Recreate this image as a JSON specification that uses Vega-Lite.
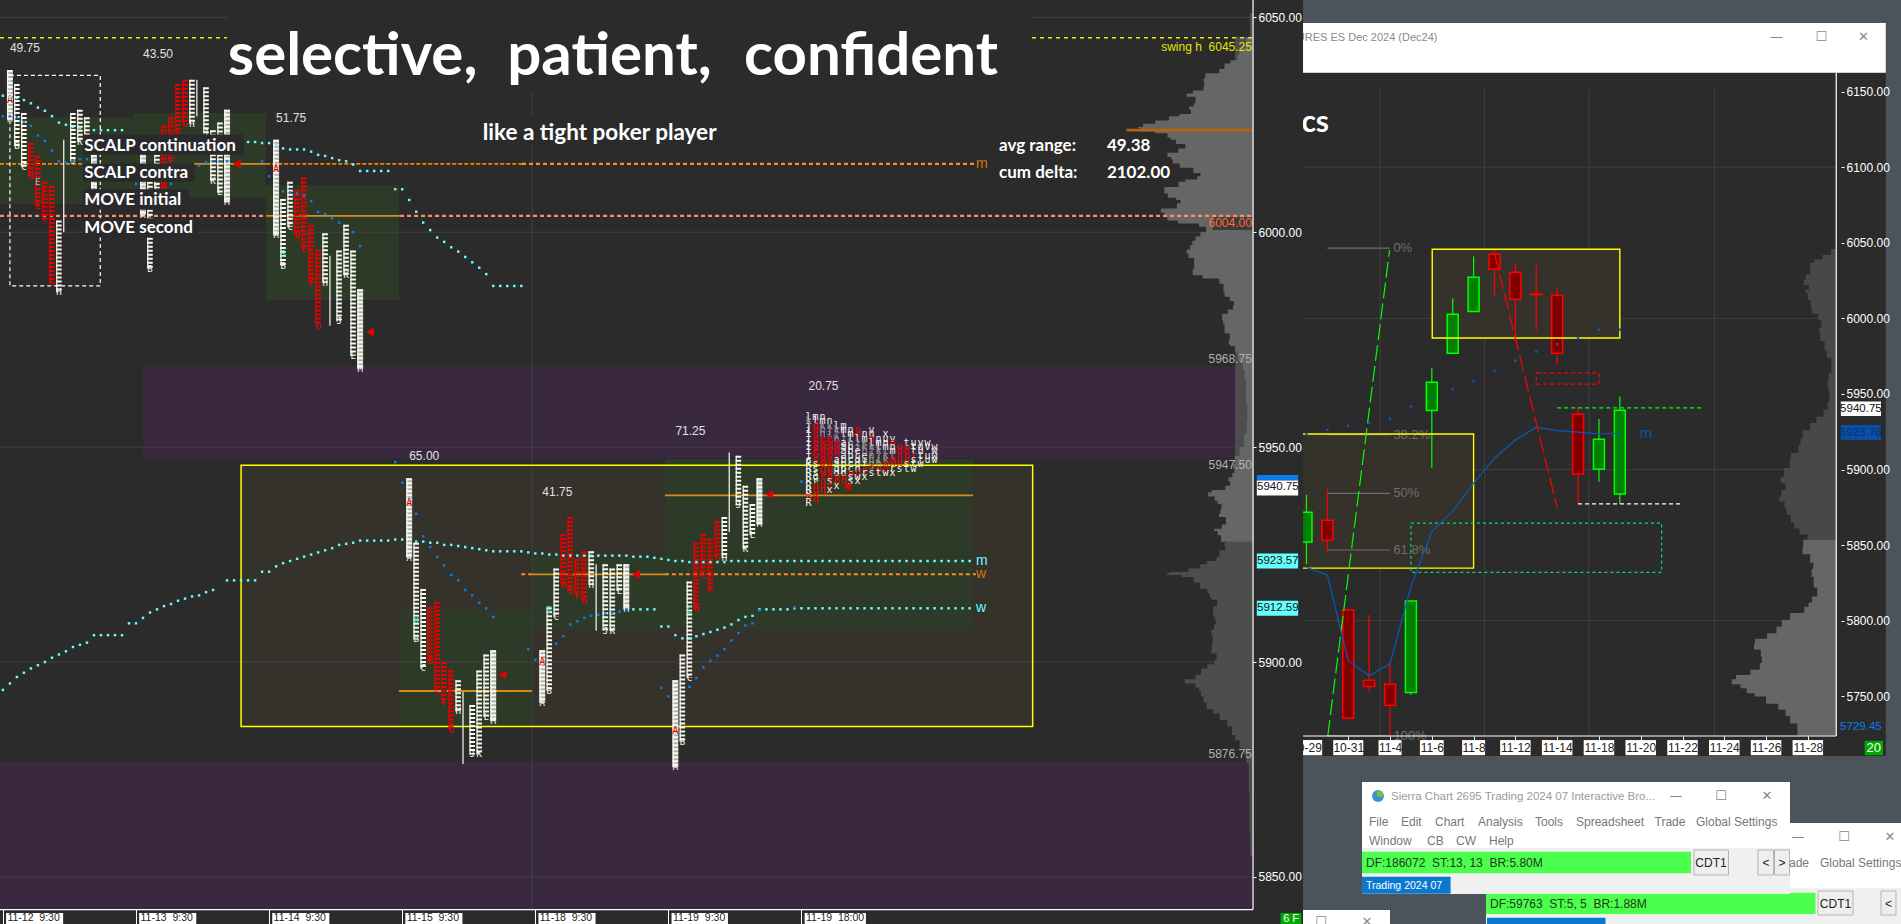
{
"$schema":"https://vega.github.io/schema/vega-lite/v6.json",
"width":1901,"height":924,"padding":0,"autosize":{"type":"none"},"background":"#4b535b",
"config":{"view":{"stroke":null},"text":{"font":"Liberation Sans"},"axis":{"labelFont":"Liberation Sans"}},
"datasets":{
"tpo":[
{"b":1,"p":6037.75,"p2":6026.25,"t":"A","c":"w"},{"b":2,"p":6034.5,"p2":6020,"t":"B","c":"w"},{"b":3,"p":6027.75,"p2":6015.25,"t":"C","c":"w"},{"b":4,"p":6020.75,"p2":6013,"t":"D","c":"r"},{"b":5,"p":6017.75,"p2":6006,"t":"E","c":"r"},{"b":6,"p":6011.75,"p2":6003,"t":"F","c":"r"},{"b":7,"p":6010.75,"p2":5988.25,"t":"G","c":"r"},{"b":8,"p":6002.75,"p2":5986,"t":"H","c":"w"},{"b":9,"p":6021.5,"p2":6000,"t":"I","c":"w"},{"b":10,"p":6027.75,"p2":6016.5,"t":"J","c":"w"},{"b":11,"p":6028.5,"p2":6021,"t":"K","c":"w"},{"b":12,"p":6026.75,"p2":6020,"t":"L","c":"w"},{"b":13,"p":6018,"p2":6010.25,"t":"M","c":"w"},
{"b":20,"p":6022.5,"p2":6004,"t":"A","c":"w"},{"b":21,"p":6011.75,"p2":5991.5,"t":"B","c":"w"},{"b":22,"p":6018,"p2":6010.25,"t":"C","c":"w"},{"b":23,"p":6024.75,"p2":6010.25,"t":"D","c":"r"},{"b":24,"p":6026.75,"p2":6016.5,"t":"E","c":"r"},{"b":25,"p":6034.5,"p2":6023,"t":"F","c":"r"},{"b":26,"p":6035.5,"p2":6025.25,"t":"G","c":"r"},{"b":27,"p":6035.5,"p2":6025.25,"t":"H","c":"w"},{"b":28,"p":6035.5,"p2":6027,"t":"I","c":"w"},{"b":29,"p":6033.75,"p2":6023,"t":"J","c":"w"},{"b":30,"p":6023.75,"p2":6012,"t":"K","c":"w"},{"b":31,"p":6025.5,"p2":6009.25,"t":"L","c":"w"},{"b":32,"p":6028.5,"p2":6007,"t":"M","c":"w"},
{"b":39,"p":6021.5,"p2":5999.25,"t":"A","c":"w"},{"b":40,"p":6007.75,"p2":5992.25,"t":"B","c":"w"},{"b":41,"p":6011.75,"p2":6001.25,"t":"C","c":"w"},{"b":42,"p":6009.75,"p2":5999.25,"t":"D","c":"r"},{"b":43,"p":6012.75,"p2":5996,"t":"E","c":"r"},{"b":44,"p":6001.75,"p2":5988.25,"t":"F","c":"r"},{"b":45,"p":5996,"p2":5978.25,"t":"G","c":"r"},{"b":46,"p":5999.75,"p2":5988.25,"t":"H","c":"w"},{"b":47,"p":5994.5,"p2":5978.25,"t":"I","c":"w"},{"b":48,"p":5995.75,"p2":5979.25,"t":"J","c":"w"},{"b":49,"p":6001.75,"p2":5990,"t":"K","c":"w"},{"b":50,"p":5995.75,"p2":5971.25,"t":"L","c":"w"},{"b":51,"p":5986.75,"p2":5968.25,"t":"M","c":"w"},
{"b":58,"p":5942.75,"p2":5924.25,"t":"A","c":"w"},{"b":59,"p":5927.75,"p2":5905.25,"t":"B","c":"w"},{"b":60,"p":5917,"p2":5898.5,"t":"C","c":"w"},{"b":61,"p":5912.75,"p2":5900.25,"t":"D","c":"r"},{"b":62,"p":5914,"p2":5893.5,"t":"E","c":"r"},{"b":63,"p":5900,"p2":5890.5,"t":"F","c":"r"},{"b":64,"p":5898,"p2":5884.25,"t":"G","c":"r"},{"b":65,"p":5895.75,"p2":5888.5,"t":"H","c":"w"},{"b":66,"p":5893,"p2":5876.25,"t":"I","c":"w"},{"b":67,"p":5890,"p2":5878.5,"t":"J","c":"w"},{"b":68,"p":5898,"p2":5878.5,"t":"K","c":"w"},{"b":69,"p":5901.75,"p2":5887.25,"t":"L","c":"w"},{"b":70,"p":5902.75,"p2":5886.25,"t":"M","c":"w"},
{"b":77,"p":5902.75,"p2":5890.5,"t":"A","c":"w"},{"b":78,"p":5912.75,"p2":5893.25,"t":"B","c":"w"},{"b":79,"p":5921.75,"p2":5910.5,"t":"C","c":"w"},{"b":80,"p":5929.75,"p2":5918,"t":"D","c":"r"},{"b":81,"p":5933.75,"p2":5916.5,"t":"E","c":"r"},{"b":82,"p":5924,"p2":5915.5,"t":"F","c":"r"},{"b":83,"p":5925.75,"p2":5914.25,"t":"G","c":"r"},{"b":84,"p":5925.75,"p2":5918,"t":"H","c":"w"},{"b":85,"p":5922.75,"p2":5907.25,"t":"I","c":"w"},{"b":86,"p":5922.75,"p2":5907.25,"t":"J","c":"w"},{"b":87,"p":5921.75,"p2":5907.25,"t":"K","c":"w"},{"b":88,"p":5922.75,"p2":5916.5,"t":"L","c":"w"},{"b":89,"p":5922.75,"p2":5912.25,"t":"M","c":"w"},
{"b":96,"p":5895.75,"p2":5875.5,"t":"A","c":"w"},{"b":97,"p":5901.75,"p2":5881.5,"t":"B","c":"w"},{"b":98,"p":5918.75,"p2":5896.25,"t":"C","c":"w"},{"b":99,"p":5927.75,"p2":5912.25,"t":"D","c":"r"},{"b":100,"p":5929.75,"p2":5920.25,"t":"E","c":"r"},{"b":101,"p":5928.75,"p2":5916.5,"t":"F","c":"r"},{"b":102,"p":5932.75,"p2":5924.25,"t":"G","c":"r"},{"b":103,"p":5933.75,"p2":5924.25,"t":"H","c":"w"},{"b":104,"p":5948.75,"p2":5930.25,"t":"I","c":"w"},{"b":105,"p":5948,"p2":5936.5,"t":"J","c":"w"},{"b":106,"p":5941,"p2":5926.25,"t":"K","c":"w"},{"b":107,"p":5936.75,"p2":5929.5,"t":"L","c":"w"},{"b":108,"p":5942.75,"p2":5932,"t":"M","c":"w"}
],
"cloud":[
{"b":115,"p":5957,"t":"l","c":"w"},{"b":116,"p":5957,"t":"m","c":"w"},{"b":117,"p":5957,"t":"n","c":"w"},
{"b":115,"p":5956,"t":"k","c":"g"},{"b":116,"p":5956,"t":"l","c":"w"},{"b":117,"p":5956,"t":"m","c":"w"},{"b":118,"p":5956,"t":"n","c":"w"},
{"b":115,"p":5955,"t":"j","c":"w"},{"b":116,"p":5955,"t":"d","c":"r"},{"b":117,"p":5955,"t":"k","c":"g"},{"b":118,"p":5955,"t":"k","c":"g"},{"b":119,"p":5955,"t":"l","c":"w"},{"b":120,"p":5955,"t":"m","c":"w"},
{"b":115,"p":5954,"t":"i","c":"w"},{"b":116,"p":5954,"t":"d","c":"r"},{"b":117,"p":5954,"t":"h","c":"g"},{"b":118,"p":5954,"t":"j","c":"g"},{"b":119,"p":5954,"t":"k","c":"g"},{"b":120,"p":5954,"t":"m","c":"w"},{"b":121,"p":5954,"t":"n","c":"w"},{"b":122,"p":5954,"t":"o","c":"r"},{"b":124,"p":5954,"t":"v","c":"w"},
{"b":115,"p":5953,"t":"i","c":"w"},{"b":116,"p":5953,"t":"d","c":"r"},{"b":117,"p":5953,"t":"h","c":"g"},{"b":118,"p":5953,"t":"i","c":"g"},{"b":119,"p":5953,"t":"j","c":"g"},{"b":120,"p":5953,"t":"l","c":"w"},{"b":121,"p":5953,"t":"m","c":"w"},{"b":122,"p":5953,"t":"o","c":"r"},{"b":123,"p":5953,"t":"n","c":"w"},{"b":124,"p":5953,"t":"u","c":"w"},{"b":126,"p":5953,"t":"x","c":"w"},
{"b":115,"p":5952,"t":"i","c":"w"},{"b":116,"p":5952,"t":"e","c":"r"},{"b":117,"p":5952,"t":"e","c":"r"},{"b":118,"p":5952,"t":"e","c":"r"},{"b":119,"p":5952,"t":"h","c":"g"},{"b":120,"p":5952,"t":"j","c":"g"},{"b":121,"p":5952,"t":"l","c":"w"},{"b":122,"p":5952,"t":"l","c":"w"},{"b":123,"p":5952,"t":"m","c":"w"},{"b":124,"p":5952,"t":"o","c":"r"},{"b":125,"p":5952,"t":"n","c":"w"},{"b":126,"p":5952,"t":"u","c":"w"},{"b":127,"p":5952,"t":"v","c":"w"},
{"b":115,"p":5951,"t":"i","c":"w"},{"b":116,"p":5951,"t":"e","c":"r"},{"b":117,"p":5951,"t":"w","c":"r"},{"b":118,"p":5951,"t":"w","c":"r"},{"b":119,"p":5951,"t":"w","c":"r"},{"b":120,"p":5951,"t":"a","c":"w"},{"b":121,"p":5951,"t":"h","c":"g"},{"b":122,"p":5951,"t":"i","c":"g"},{"b":123,"p":5951,"t":"k","c":"g"},{"b":124,"p":5951,"t":"l","c":"w"},{"b":125,"p":5951,"t":"m","c":"w"},{"b":126,"p":5951,"t":"n","c":"w"},{"b":127,"p":5951,"t":"o","c":"r"},{"b":129,"p":5951,"t":"t","c":"w"},{"b":130,"p":5951,"t":"u","c":"w"},{"b":131,"p":5951,"t":"y","c":"w"},{"b":132,"p":5951,"t":"w","c":"w"},
{"b":115,"p":5950,"t":"i","c":"w"},{"b":116,"p":5950,"t":"e","c":"r"},{"b":117,"p":5950,"t":"w","c":"r"},{"b":118,"p":5950,"t":"w","c":"r"},{"b":119,"p":5950,"t":"w","c":"r"},{"b":120,"p":5950,"t":"a","c":"w"},{"b":121,"p":5950,"t":"b","c":"w"},{"b":122,"p":5950,"t":"j","c":"g"},{"b":123,"p":5950,"t":"k","c":"g"},{"b":124,"p":5950,"t":"k","c":"g"},{"b":125,"p":5950,"t":"l","c":"w"},{"b":126,"p":5950,"t":"m","c":"w"},{"b":127,"p":5950,"t":"n","c":"w"},{"b":128,"p":5950,"t":"o","c":"r"},{"b":129,"p":5950,"t":"p","c":"r"},{"b":130,"p":5950,"t":"t","c":"w"},{"b":131,"p":5950,"t":"u","c":"w"},{"b":132,"p":5950,"t":"v","c":"w"},{"b":133,"p":5950,"t":"w","c":"w"},
{"b":115,"p":5949,"t":"i","c":"w"},{"b":116,"p":5949,"t":"e","c":"r"},{"b":117,"p":5949,"t":"w","c":"r"},{"b":118,"p":5949,"t":"w","c":"r"},{"b":119,"p":5949,"t":"w","c":"r"},{"b":120,"p":5949,"t":"a","c":"w"},{"b":121,"p":5949,"t":"b","c":"w"},{"b":122,"p":5949,"t":"e","c":"w"},{"b":123,"p":5949,"t":"h","c":"g"},{"b":124,"p":5949,"t":"j","c":"g"},{"b":125,"p":5949,"t":"k","c":"g"},{"b":126,"p":5949,"t":"l","c":"g"},{"b":127,"p":5949,"t":"m","c":"w"},{"b":128,"p":5949,"t":"o","c":"r"},{"b":129,"p":5949,"t":"p","c":"r"},{"b":130,"p":5949,"t":"t","c":"w"},{"b":131,"p":5949,"t":"u","c":"w"},{"b":133,"p":5949,"t":"w","c":"w"},
{"b":115,"p":5948,"t":"i","c":"w"},{"b":116,"p":5948,"t":"w","c":"r"},{"b":117,"p":5948,"t":"w","c":"r"},{"b":118,"p":5948,"t":"w","c":"r"},{"b":119,"p":5948,"t":"v","c":"r"},{"b":120,"p":5948,"t":"a","c":"w"},{"b":121,"p":5948,"t":"b","c":"w"},{"b":122,"p":5948,"t":"c","c":"w"},{"b":123,"p":5948,"t":"e","c":"w"},{"b":124,"p":5948,"t":"h","c":"g"},{"b":125,"p":5948,"t":"j","c":"g"},{"b":126,"p":5948,"t":"k","c":"g"},{"b":127,"p":5948,"t":"l","c":"g"},{"b":128,"p":5948,"t":"n","c":"r"},{"b":129,"p":5948,"t":"p","c":"r"},{"b":130,"p":5948,"t":"r","c":"r"},{"b":131,"p":5948,"t":"t","c":"w"},{"b":132,"p":5948,"t":"u","c":"w"},{"b":133,"p":5948,"t":"w","c":"w"},
{"b":115,"p":5947,"t":"c","c":"w"},{"b":116,"p":5947,"t":"s","c":"r"},{"b":117,"p":5947,"t":"w","c":"r"},{"b":118,"p":5947,"t":"v","c":"r"},{"b":119,"p":5947,"t":"a","c":"w"},{"b":120,"p":5947,"t":"b","c":"w"},{"b":121,"p":5947,"t":"c","c":"w"},{"b":122,"p":5947,"t":"d","c":"w"},{"b":123,"p":5947,"t":"g","c":"g"},{"b":124,"p":5947,"t":"h","c":"g"},{"b":125,"p":5947,"t":"i","c":"g"},{"b":126,"p":5947,"t":"k","c":"g"},{"b":127,"p":5947,"t":"m","c":"r"},{"b":128,"p":5947,"t":"o","c":"r"},{"b":129,"p":5947,"t":"q","c":"r"},{"b":130,"p":5947,"t":"s","c":"w"},{"b":131,"p":5947,"t":"t","c":"w"},{"b":132,"p":5947,"t":"u","c":"w"},{"b":133,"p":5947,"t":"w","c":"w"},
{"b":115,"p":5946,"t":"R","c":"w"},{"b":116,"p":5946,"t":"s","c":"w"},{"b":117,"p":5946,"t":"w","c":"r"},{"b":118,"p":5946,"t":"w","c":"r"},{"b":119,"p":5946,"t":"a","c":"w"},{"b":120,"p":5946,"t":"p","c":"w"},{"b":121,"p":5946,"t":"c","c":"w"},{"b":122,"p":5946,"t":"d","c":"w"},{"b":123,"p":5946,"t":"f","c":"w"},{"b":124,"p":5946,"t":"g","c":"g"},{"b":125,"p":5946,"t":"h","c":"g"},{"b":126,"p":5946,"t":"m","c":"r"},{"b":127,"p":5946,"t":"n","c":"r"},{"b":128,"p":5946,"t":"q","c":"r"},{"b":129,"p":5946,"t":"s","c":"w"},{"b":130,"p":5946,"t":"t","c":"w"},{"b":131,"p":5946,"t":"w","c":"w"},
{"b":115,"p":5945,"t":"R","c":"w"},{"b":116,"p":5945,"t":"s","c":"w"},{"b":117,"p":5945,"t":"q","c":"r"},{"b":118,"p":5945,"t":"w","c":"r"},{"b":119,"p":5945,"t":"q","c":"w"},{"b":120,"p":5945,"t":"p","c":"w"},{"b":121,"p":5945,"t":"c","c":"w"},{"b":122,"p":5945,"t":"n","c":"w"},{"b":123,"p":5945,"t":"e","c":"r"},{"b":124,"p":5945,"t":"f","c":"r"},{"b":125,"p":5945,"t":"p","c":"r"},{"b":126,"p":5945,"t":"q","c":"r"},{"b":127,"p":5945,"t":"r","c":"w"},{"b":128,"p":5945,"t":"s","c":"w"},{"b":129,"p":5945,"t":"t","c":"w"},{"b":130,"p":5945,"t":"w","c":"w"},
{"b":115,"p":5944,"t":"R","c":"w"},{"b":116,"p":5944,"t":"s","c":"w"},{"b":117,"p":5944,"t":"w","c":"r"},{"b":118,"p":5944,"t":"w","c":"r"},{"b":119,"p":5944,"t":"d","c":"w"},{"b":120,"p":5944,"t":"d","c":"w"},{"b":121,"p":5944,"t":"p","c":"r"},{"b":122,"p":5944,"t":"q","c":"r"},{"b":123,"p":5944,"t":"r","c":"w"},{"b":124,"p":5944,"t":"s","c":"w"},{"b":125,"p":5944,"t":"t","c":"w"},{"b":126,"p":5944,"t":"w","c":"w"},{"b":127,"p":5944,"t":"x","c":"w"},
{"b":115,"p":5943,"t":"R","c":"w"},{"b":116,"p":5943,"t":"q","c":"w"},{"b":117,"p":5943,"t":"r","c":"r"},{"b":118,"p":5943,"t":"p","c":"r"},{"b":119,"p":5943,"t":"p","c":"r"},{"b":120,"p":5943,"t":"q","c":"r"},{"b":121,"p":5943,"t":"s","c":"w"},{"b":122,"p":5943,"t":"w","c":"w"},{"b":123,"p":5943,"t":"x","c":"w"},
{"b":115,"p":5942,"t":"R","c":"w"},{"b":116,"p":5942,"t":"r","c":"w"},{"b":117,"p":5942,"t":"q","c":"r"},{"b":118,"p":5942,"t":"s","c":"w"},{"b":119,"p":5942,"t":"p","c":"r"},{"b":120,"p":5942,"t":"q","c":"r"},{"b":121,"p":5942,"t":"s","c":"w"},{"b":122,"p":5942,"t":"x","c":"w"},
{"b":115,"p":5941,"t":"R","c":"w"},{"b":116,"p":5941,"t":"q","c":"r"},{"b":117,"p":5941,"t":"q","c":"r"},{"b":118,"p":5941,"t":"p","c":"r"},{"b":119,"p":5941,"t":"x","c":"w"},
{"b":115,"p":5940,"t":"R","c":"w"},{"b":116,"p":5940,"t":"q","c":"r"},{"b":117,"p":5940,"t":"q","c":"r"},{"b":118,"p":5940,"t":"x","c":"w"},
{"b":115,"p":5939,"t":"R","c":"w"},{"b":116,"p":5939,"t":"q","c":"r"},
{"b":115,"p":5938,"t":"R","c":"r"},{"b":116,"p":5938,"t":"q","c":"r"},
{"b":115,"p":5937,"t":"R","c":"w"}
],
"leftProfile":[
{"p":6051,"b":178,"k":"lo"},{"p":6045.5,"b":178,"k":"lo"},
{"p":6045.25,"b":177.9,"k":"hi"},{"p":6043,"b":177,"k":"hi"},{"p":6041.25,"b":176,"k":"hi"},{"p":6040,"b":176.5,"k":"hi"},{"p":6039.25,"b":174,"k":"hi"},{"p":6038,"b":174.8,"k":"hi"},{"p":6037,"b":172.5,"k":"hi"},{"p":6035.75,"b":170.8,"k":"hi"},{"p":6035,"b":172,"k":"hi"},{"p":6034,"b":171,"k":"hi"},{"p":6033,"b":171.8,"k":"hi"},{"p":6032.25,"b":168,"k":"hi"},{"p":6031.5,"b":170,"k":"hi"},{"p":6030,"b":170.5,"k":"hi"},{"p":6029.25,"b":169.5,"k":"hi"},{"p":6028.5,"b":169.2,"k":"hi"},{"p":6027.5,"b":170,"k":"hi"},{"p":6027,"b":165.9,"k":"hi"},{"p":6026,"b":167,"k":"hi"},{"p":6025.25,"b":162,"k":"hi"},{"p":6024.5,"b":163.5,"k":"hi"},{"p":6024.25,"b":160.6,"k":"hi"},{"p":6023.5,"b":164,"k":"hi"},{"p":6023,"b":165,"k":"hi"},{"p":6022,"b":167.5,"k":"hi"},{"p":6021.5,"b":165.9,"k":"hi"},{"p":6020.5,"b":169,"k":"hi"},{"p":6019.5,"b":168.6,"k":"hi"},{"p":6018.5,"b":167,"k":"hi"},{"p":6017.5,"b":165.5,"k":"hi"},{"p":6017,"b":168,"k":"hi"},{"p":6016,"b":166,"k":"hi"},{"p":6015,"b":170,"k":"hi"},{"p":6013.75,"b":169.9,"k":"hi"},{"p":6013,"b":172,"k":"hi"},{"p":6012.25,"b":169,"k":"hi"},{"p":6011.75,"b":168.6,"k":"hi"},{"p":6010.5,"b":167,"k":"hi"},{"p":6009,"b":164.6,"k":"hi"},{"p":6008,"b":168,"k":"hi"},{"p":6007.5,"b":167,"k":"hi"},{"p":6006.75,"b":169.2,"k":"hi"},{"p":6005.5,"b":166,"k":"hi"},{"p":6004.5,"b":164.6,"k":"hi"},{"p":6003.5,"b":167,"k":"hi"},{"p":6002.75,"b":165.5,"k":"hi"},{"p":6002,"b":170,"k":"hi"},{"p":6001.25,"b":171.5,"k":"hi"},{"p":6000,"b":172,"k":"hi"},{"p":5999,"b":169.9,"k":"hi"},{"p":5998,"b":170.6,"k":"hi"},{"p":5997,"b":169,"k":"hi"},{"p":5996,"b":170,"k":"hi"},{"p":5995,"b":168,"k":"hi"},{"p":5994,"b":170.5,"k":"hi"},{"p":5992.75,"b":169.6,"k":"hi"},{"p":5991.5,"b":170.5,"k":"hi"},{"p":5990,"b":169.2,"k":"hi"},{"p":5989.25,"b":173.3,"k":"hi"},{"p":5988,"b":174,"k":"hi"},{"p":5987.25,"b":174.5,"k":"hi"},{"p":5986,"b":174,"k":"hi"},{"p":5985,"b":174.8,"k":"hi"},{"p":5984,"b":175.5,"k":"hi"},{"p":5983,"b":176,"k":"hi"},{"p":5982,"b":175.2,"k":"hi"},{"p":5981,"b":174.5,"k":"hi"},{"p":5979.5,"b":173.6,"k":"hi"},{"p":5978.5,"b":174.8,"k":"hi"},{"p":5977,"b":174,"k":"hi"},{"p":5976.5,"b":174.8,"k":"hi"},{"p":5975,"b":175.5,"k":"hi"},{"p":5974,"b":174.5,"k":"hi"},{"p":5973.5,"b":175.8,"k":"hi"},{"p":5972,"b":176,"k":"hi"},{"p":5970,"b":176.6,"k":"hi"},{"p":5969.5,"b":176.8,"k":"hi"},{"p":5968,"b":177.2,"k":"hi"},{"p":5966,"b":177.3,"k":"hi"},{"p":5960,"b":177.6,"k":"hi"},{"p":5956,"b":177.7,"k":"hi"},{"p":5953,"b":177.4,"k":"hi"},{"p":5950,"b":177,"k":"hi"},{"p":5948,"b":176.1,"k":"hi"},{"p":5946,"b":175.6,"k":"hi"},{"p":5945,"b":175.6,"k":"hi"},{"p":5944,"b":176,"k":"hi"},{"p":5943,"b":175,"k":"hi"},{"p":5942,"b":174.9,"k":"hi"},{"p":5941,"b":175.5,"k":"hi"},{"p":5940,"b":173.5,"k":"hi"},{"p":5939.5,"b":171.6,"k":"hi"},{"p":5938.5,"b":172.5,"k":"hi"},{"p":5937.5,"b":173.5,"k":"hi"},{"p":5936.75,"b":173.3,"k":"hi"},{"p":5935.5,"b":174.6,"k":"hi"},{"p":5934.5,"b":173,"k":"hi"},{"p":5933.75,"b":174.2,"k":"hi"},{"p":5932,"b":175,"k":"hi"},{"p":5931,"b":173,"k":"hi"},{"p":5930.5,"b":172.8,"k":"hi"},{"p":5929.5,"b":174,"k":"hi"},{"p":5928,"b":173.8,"k":"hi"},
{"p":5928,"b":173.8,"k":"lo"},{"p":5927,"b":175,"k":"lo"},{"p":5926,"b":174,"k":"lo"},{"p":5925.5,"b":173.3,"k":"lo"},{"p":5924.5,"b":174,"k":"lo"},{"p":5923.5,"b":172.5,"k":"lo"},{"p":5922.75,"b":171.3,"k":"lo"},{"p":5921.75,"b":170.5,"k":"lo"},{"p":5921,"b":168,"k":"lo"},{"p":5920.75,"b":165.4,"k":"lo"},{"p":5920.25,"b":167,"k":"lo"},{"p":5919.75,"b":169.5,"k":"lo"},{"p":5918.5,"b":170.5,"k":"lo"},{"p":5917,"b":171.3,"k":"lo"},{"p":5916,"b":172.6,"k":"lo"},{"p":5915,"b":172,"k":"lo"},{"p":5914.5,"b":173,"k":"lo"},{"p":5913,"b":173.6,"k":"lo"},{"p":5912,"b":172,"k":"lo"},{"p":5910.5,"b":173.5,"k":"lo"},{"p":5909.5,"b":172.6,"k":"lo"},{"p":5908.75,"b":173.8,"k":"lo"},{"p":5907.5,"b":172,"k":"lo"},{"p":5906.5,"b":173,"k":"lo"},{"p":5905.5,"b":172.3,"k":"lo"},{"p":5904.5,"b":173.2,"k":"lo"},{"p":5903,"b":172,"k":"lo"},{"p":5902,"b":173,"k":"lo"},{"p":5900.5,"b":173.5,"k":"lo"},{"p":5899.5,"b":172.4,"k":"lo"},{"p":5898.5,"b":171.5,"k":"lo"},{"p":5898,"b":170.6,"k":"lo"},{"p":5897,"b":171.5,"k":"lo"},{"p":5896,"b":169,"k":"lo"},{"p":5895.75,"b":168,"k":"lo"},{"p":5895,"b":169.5,"k":"lo"},{"p":5894,"b":171,"k":"lo"},{"p":5893.25,"b":170.5,"k":"lo"},{"p":5892,"b":171.6,"k":"lo"},{"p":5890.5,"b":171.2,"k":"lo"},{"p":5889,"b":172.5,"k":"lo"},{"p":5888,"b":173,"k":"lo"},{"p":5886.5,"b":174.4,"k":"lo"},{"p":5885,"b":175.2,"k":"lo"},{"p":5883,"b":175.7,"k":"lo"},{"p":5881.75,"b":176.1,"k":"lo"},{"p":5880,"b":177,"k":"lo"},{"p":5878.5,"b":177.3,"k":"lo"},{"p":5876.5,"b":177.7,"k":"lo"},{"p":5870,"b":178,"k":"lo"},{"p":5860,"b":177.9,"k":"lo"},{"p":5855,"b":178.2,"k":"lo"}
],
"rightProfile":[
{"p":6046,"b":25.24,"k":"lo"},{"p":6042,"b":25,"k":"lo"},{"p":6039,"b":24.4,"k":"lo"},{"p":6036.75,"b":24.22,"k":"lo"},{"p":6033,"b":24,"k":"lo"},{"p":6029,"b":24.2,"k":"lo"},{"p":6025.5,"b":23.6,"k":"lo"},{"p":6022,"b":24,"k":"lo"},{"p":6019,"b":24.1,"k":"lo"},{"p":6016.75,"b":23.7,"k":"lo"},{"p":6012,"b":24.3,"k":"lo"},{"p":6007.75,"b":23.97,"k":"lo"},{"p":6003,"b":24.4,"k":"lo"},{"p":5999,"b":24.6,"k":"lo"},{"p":5994,"b":24.7,"k":"lo"},{"p":5990.25,"b":24.4,"k":"lo"},{"p":5985,"b":24.8,"k":"lo"},{"p":5979,"b":24.8,"k":"lo"},{"p":5974,"b":25,"k":"lo"},{"p":5968,"b":25.24,"k":"lo"},{"p":5964,"b":25,"k":"lo"},{"p":5959.25,"b":25,"k":"lo"},{"p":5955,"b":24.9,"k":"lo"},{"p":5950.5,"b":25.08,"k":"lo"},{"p":5945,"b":25,"k":"lo"},{"p":5939.5,"b":24.9,"k":"lo"},{"p":5935,"b":24.6,"k":"lo"},{"p":5930.75,"b":24.22,"k":"lo"},{"p":5926,"b":24,"k":"lo"},{"p":5920.75,"b":23.5,"k":"lo"},{"p":5916,"b":23.8,"k":"lo"},{"p":5911,"b":23.3,"k":"lo"},{"p":5906.25,"b":23.08,"k":"lo"},{"p":5901,"b":23.2,"k":"lo"},{"p":5895.25,"b":22.5,"k":"lo"},{"p":5891,"b":22.9,"k":"lo"},{"p":5886.5,"b":22.96,"k":"lo"},{"p":5882,"b":22.5,"k":"lo"},{"p":5878.75,"b":22.78,"k":"lo"},{"p":5874,"b":23,"k":"lo"},{"p":5870,"b":22.96,"k":"lo"},{"p":5865,"b":23.4,"k":"lo"},{"p":5861,"b":23.3,"k":"lo"},{"p":5857,"b":23.9,"k":"lo"},{"p":5853.5,"b":24.06,"k":"lo"},
{"p":5853.5,"b":24.06,"k":"hi"},{"p":5849,"b":23.5,"k":"hi"},{"p":5844,"b":24,"k":"hi"},{"p":5838.25,"b":24.22,"k":"hi"},{"p":5834,"b":24.3,"k":"hi"},{"p":5829,"b":24.06,"k":"hi"},{"p":5822,"b":24.5,"k":"hi"},{"p":5816,"b":24.4,"k":"hi"},{"p":5812,"b":24,"k":"hi"},{"p":5809.25,"b":24.06,"k":"hi"},{"p":5805,"b":23.6,"k":"hi"},{"p":5800.5,"b":22.7,"k":"hi"},{"p":5796,"b":22.8,"k":"hi"},{"p":5791.75,"b":22.2,"k":"hi"},{"p":5788,"b":21.9,"k":"hi"},{"p":5785,"b":21.05,"k":"hi"},{"p":5781,"b":21.8,"k":"hi"},{"p":5776.25,"b":21.7,"k":"hi"},{"p":5772,"b":21.9,"k":"hi"},{"p":5767.5,"b":21.5,"k":"hi"},{"p":5764,"b":21,"k":"hi"},{"p":5761.25,"b":20.12,"k":"hi"},{"p":5758,"b":20.6,"k":"hi"},{"p":5755.25,"b":20.95,"k":"hi"},{"p":5752,"b":21.2,"k":"hi"},{"p":5749.75,"b":21.7,"k":"hi"},{"p":5745,"b":22.3,"k":"hi"},{"p":5741,"b":22.87,"k":"hi"},{"p":5737,"b":23,"k":"hi"},{"p":5732,"b":23.3,"k":"hi"},{"p":5724,"b":23.7,"k":"hi"}
]
},
"layer":[
{
"encoding":{
"x":{"field":"b","type":"quantitative","title":null,"scale":{"domain":[-62.3,28.22],"nice":false,"zero":false},"axis":{"orient":"bottom","offset":-188,"values":[2,4,6,8,10,12,14,16,18,20,22,24],"labelExpr":"['10-31','11-4','11-6','11-8','11-12','11-14','11-18','11-20','11-22','11-24','11-26','11-28'][datum.value/2-1]","grid":false,"domain":false,"tickColor":"#ffffff","tickSize":4,"labelPadding":2,"labelBaseline":"top","labelColor":"#222222","labelFontSize":12,"labelOverlap":false,"labelBound":false,"labelFlush":false,"zindex":1}},
"y":{"field":"p","type":"quantitative","title":null,"scale":{"domain":[5599.3,6210.67],"nice":false,"zero":false},"axis":{"orient":"right","offset":-60,"values":[6150,6100,6050,6000,5950,5900,5850,5800,5750],"format":".2f","grid":false,"domain":false,"tickColor":"#ffffff","tickSize":3,"labelPadding":2,"labelColor":"#ffffff","labelFontSize":12,"labelOverlap":false,"labelBound":false,"zindex":1}}
},
"resolve":{"scale":{"color":"independent","stroke":"independent"}},
"layer":[
{"data":{"values":[{"b":-1,"b2":27.73,"p":6162.5,"p2":5710.5,"k":"panel"},{"b":-1,"b2":27.73,"p":6195.5,"p2":6162.5,"k":"title"}]},
"mark":{"type":"rect"},
"encoding":{"x2":{"field":"b2"},"y2":{"field":"p2"},"color":{"field":"k","type":"nominal","legend":null,"scale":{"domain":["panel","title"],"range":["#2b2b2b","#ffffff"]}}}},
{"data":{"values":[{"b":3.52,"p":6152,"p2":5724},{"b":8.52,"p":6152,"p2":5724},{"b":13.52,"p":6152,"p2":5724},{"b":19.53,"p":6152,"p2":5724}]},"mark":{"type":"rule","color":"#3f3f3f","strokeWidth":1},"encoding":{"y2":{"field":"p2"}}},
{"data":{"values":[{"b":-1,"b2":25.36,"p":6100},{"b":-1,"b2":25.36,"p":6000},{"b":-1,"b2":25.36,"p":5900},{"b":-1,"b2":25.36,"p":5800}]},"mark":{"type":"rule","color":"#3f3f3f","strokeWidth":1},"encoding":{"x2":{"field":"b2"}}},
{"data":{"name":"rightProfile"},"mark":{"type":"area","orient":"horizontal","interpolate":"step"},
"encoding":{"x2":{"datum":25.36},"color":{"field":"k","type":"nominal","legend":null,"scale":{"domain":["lo","hi"],"range":["#484848","#666666"]}}}},
{"data":{"values":[{"b":6.02,"b2":15,"p":6045.75,"p2":5987},{"b":-1,"b2":8,"p":5923.5,"p2":5834.75}]},"mark":{"type":"rect","color":"#34322a"},"encoding":{"x2":{"field":"b2"},"y2":{"field":"p2"}}},
{"data":{"values":[{"b":1,"b2":4,"p":6046.5},{"b":1,"b2":4,"p":5923},{"b":1,"b2":4,"p":5884.25},{"b":1,"b2":4,"p":5846.75},{"b":1,"b2":4,"p":5723.75}]},"mark":{"type":"rule","color":"#6e6e6e","strokeWidth":1.2},"encoding":{"x2":{"field":"b2"}}},
{"data":{"values":[{"b":4.16,"p":6046.5,"t":"0%"},{"b":4.16,"p":5923,"t":"38.2%"},{"b":4.16,"p":5884.25,"t":"50%"},{"b":4.16,"p":5846.75,"t":"61.8%"},{"b":4.16,"p":5723.75,"t":"100%"}]},"mark":{"type":"text","align":"left","fontSize":13,"color":"#6e6e6e"},"encoding":{"text":{"field":"t"}}},
{"data":{"values":[{"b":0,"p":5883.25,"p2":5837.5,"d":"up"},{"b":1,"p":5887,"p2":5845.75,"d":"dn"},{"b":2,"p":5807,"p2":5734.75,"d":"dn"},{"b":3,"p":5803.75,"p2":5753,"d":"dn"},{"b":4,"p":5772,"p2":5724,"d":"dn"},{"b":5,"p":5813,"p2":5751,"d":"up"},{"b":6,"p":5967,"p2":5901.25,"d":"up"},{"b":7,"p":6013.25,"p2":5977,"d":"up"},{"b":8,"p":6041,"p2":6004.5,"d":"up"},{"b":9,"p":6046,"p2":6014.5,"d":"dn"},{"b":10,"p":6036.5,"p2":5984.75,"d":"dn"},{"b":11,"p":6035.5,"p2":5992.5,"d":"dn"},{"b":12,"p":6021,"p2":5969.25,"d":"dn"},{"b":13,"p":5942,"p2":5877.25,"d":"dn"},{"b":14,"p":5933.5,"p2":5892,"d":"up"},{"b":15,"p":5948.25,"p2":5877.25,"d":"up"}]},
"mark":{"type":"rule","strokeWidth":1.2},
"encoding":{"y2":{"field":"p2"},"color":{"field":"d","type":"nominal","legend":null,"scale":{"domain":["up","dn"],"range":["#00ff00","#ff0000"]}}}},
{"data":{"values":[{"b":0,"p":5871.75,"p2":5852,"d":"up"},{"b":1,"p":5866.5,"p2":5853.25,"d":"dn"},{"b":2,"p":5807,"p2":5735.5,"d":"dn"},{"b":3,"p":5760.5,"p2":5756.5,"d":"dn"},{"b":4,"p":5758,"p2":5744,"d":"dn"},{"b":5,"p":5813,"p2":5752.5,"d":"up"},{"b":6,"p":5957.75,"p2":5939,"d":"up"},{"b":7,"p":6002.75,"p2":5977,"d":"up"},{"b":8,"p":6027.25,"p2":6004.5,"d":"up"},{"b":9,"p":6042.5,"p2":6032.5,"d":"dn"},{"b":10,"p":6030.5,"p2":6012.75,"d":"dn"},{"b":11,"p":6016.25,"p2":6015.75,"d":"dn"},{"b":12,"p":6015.25,"p2":5977,"d":"dn"},{"b":13,"p":5936.5,"p2":5897,"d":"dn"},{"b":14,"p":5920,"p2":5900.25,"d":"up"},{"b":15,"p":5939.25,"p2":5883.75,"d":"up"}]},
"mark":{"type":"bar","size":11,"strokeWidth":1.5,"orient":"vertical"},
"encoding":{"y2":{"field":"p2"},"color":{"field":"d","type":"nominal","legend":null,"scale":{"domain":["up","dn"],"range":["#008000","#800000"]}},"stroke":{"field":"d","type":"nominal","legend":null,"scale":{"domain":["up","dn"],"range":["#00ff00","#ff0000"]}}}},
{"data":{"values":[{"b":6.02,"b2":15,"p":6045.75,"p2":5987},{"b":-1,"b2":8,"p":5923.5,"p2":5834.75}]},"mark":{"type":"rect","filled":false,"stroke":"#ffff00","strokeWidth":1.4},"encoding":{"x2":{"field":"b2"},"y2":{"field":"p2"}}},
{"data":{"values":[{"b":11,"b2":14,"p":5964,"p2":5956.5}]},"mark":{"type":"rect","filled":false,"stroke":"#ff0000","strokeWidth":1.2,"strokeDash":[4,3]},"encoding":{"x2":{"field":"b2"},"y2":{"field":"p2"}}},
{"data":{"values":[{"b":5,"b2":17,"p":5864.5,"p2":5832}]},"mark":{"type":"rect","filled":false,"stroke":"#00e070","strokeWidth":1.2,"strokeDash":[3,3]},"encoding":{"x2":{"field":"b2"},"y2":{"field":"p2"}}},
{"data":{"values":[{"b":12,"b2":19,"p":5940.75}]},"mark":{"type":"rule","color":"#00ff00","strokeWidth":1.2,"strokeDash":[4,3]},"encoding":{"x2":{"field":"b2"}}},
{"data":{"values":[{"b":13,"b2":18,"p":5877.25}]},"mark":{"type":"rule","color":"#ffffff","strokeWidth":1.2,"strokeDash":[4,3]},"encoding":{"x2":{"field":"b2"}}},
{"data":{"values":[{"b":1.02,"p":5723.75},{"b":3.98,"p":6045.25}]},"mark":{"type":"line","color":"#00ff00","strokeWidth":1.2,"strokeDash":[16,5]}},
{"data":{"values":[{"b":9,"p":6043},{"b":12,"p":5874.75}]},"mark":{"type":"line","color":"#ff0000","strokeWidth":1.2,"strokeDash":[16,5]}},
{"data":{"values":[{"b":0,"p":5835.25},{"b":1,"p":5830.25},{"b":2,"p":5773.5},{"b":3,"p":5763.5},{"b":4,"p":5771.5},{"b":5,"p":5822.5},{"b":6,"p":5859},{"b":7,"p":5872.25},{"b":8,"p":5891},{"b":9,"p":5907.5},{"b":10,"p":5919.5},{"b":11,"p":5928},{"b":12,"p":5925.75},{"b":13,"p":5924.75},{"b":14,"p":5923.5},{"b":15,"p":5924}]},"mark":{"type":"line","color":"#0a5ab8","strokeWidth":1.2}},
{"data":{"values":[{"b":0,"p":5923.5},{"b":1,"p":5926.25},{"b":2,"p":5929},{"b":3,"p":5931},{"b":4,"p":5933.75},{"b":5,"p":5941.75},{"b":6,"p":5947.25},{"b":7,"p":5953.25},{"b":8,"p":5958.5},{"b":9,"p":5965.5},{"b":10,"p":5972},{"b":11,"p":5978},{"b":12,"p":5983},{"b":13,"p":5987},{"b":14,"p":5992.5},{"b":15,"p":5992.5}]},"mark":{"type":"square","size":6,"color":"#0a5ab8","opacity":1}},
{"data":{"values":[{"b":15.95,"p":5924,"t":"m"}]},"mark":{"type":"text","align":"left","fontSize":15,"color":"#0b55a8"},"encoding":{"text":{"field":"t"}}},
{"data":{"values":[{"b":25.36,"p":6162.5,"p2":5723.7}]},"mark":{"type":"rule","color":"#ffffff","strokeWidth":1.2},"encoding":{"y2":{"field":"p2"}}},
{"data":{"values":[{"b":-1,"b2":25.36,"p":5723.7}]},"mark":{"type":"rule","color":"#ffffff","strokeWidth":1.2},"encoding":{"x2":{"field":"b2"}}},
{"data":{"values":[{"b":-0.8,"b2":0.75,"p":5721,"p2":5711},{"b":1.28,"b2":2.72,"p":5721,"p2":5711},{"b":3.45,"b2":4.55,"p":5721,"p2":5711},{"b":5.43,"b2":6.57,"p":5721,"p2":5711},{"b":7.45,"b2":8.55,"p":5721,"p2":5711},{"b":9.27,"b2":10.73,"p":5721,"p2":5711},{"b":11.27,"b2":12.73,"p":5721,"p2":5711},{"b":13.27,"b2":14.73,"p":5721,"p2":5711},{"b":15.27,"b2":16.73,"p":5721,"p2":5711},{"b":17.27,"b2":18.73,"p":5721,"p2":5711},{"b":19.27,"b2":20.73,"p":5721,"p2":5711},{"b":21.27,"b2":22.73,"p":5721,"p2":5711},{"b":23.27,"b2":24.73,"p":5721,"p2":5711}]},"mark":{"type":"rect","color":"#ffffff"},"encoding":{"x2":{"field":"b2"},"y2":{"field":"p2"}}},
{"data":{"values":[{"b":0,"p":5716,"t":"10-29"}]},"mark":{"type":"text","fontSize":12,"color":"#222222"},"encoding":{"text":{"field":"t"}}},
{"data":{"values":[{"b":25.58,"b2":27.5,"p":5945,"p2":5935.5}]},"mark":{"type":"rect","color":"#ffffff"},"encoding":{"x2":{"field":"b2"},"y2":{"field":"p2"}}},
{"data":{"values":[{"b":25.58,"b2":27.5,"p":5929.5,"p2":5919.5}]},"mark":{"type":"rect","color":"#0a4ea5"},"encoding":{"x2":{"field":"b2"},"y2":{"field":"p2"}}},
{"data":{"values":[{"b":26.54,"p":5940.25,"t":"5940.75"}]},"mark":{"type":"text","fontSize":11.5,"color":"#111111"},"encoding":{"text":{"field":"t"}}},
{"data":{"values":[{"b":26.54,"p":5924.5,"t":"5923.78"}]},"mark":{"type":"text","fontSize":11.5,"color":"#06326e"},"encoding":{"text":{"field":"t"}}},
{"data":{"values":[{"b":26.54,"p":5729.75,"t":"5729.45"}]},"mark":{"type":"text","fontSize":11.5,"color":"#0a7bf0"},"encoding":{"text":{"field":"t"}}},
{"data":{"values":[{"b":26.72,"b2":27.6,"p":5720.5,"p2":5711}]},"mark":{"type":"rect","color":"#00aa00"},"encoding":{"x2":{"field":"b2"},"y2":{"field":"p2"}}},
{"data":{"values":[{"b":27.16,"p":5715.75,"t":"20"}]},"mark":{"type":"text","fontSize":13,"color":"#ffffff"},"encoding":{"text":{"field":"t"}}},
{"data":{"values":[{"b":6.27,"p":6185.75,"t":"FUTURES ES Dec 2024 (Dec24)"}]},"mark":{"type":"text","align":"right","fontSize":11,"color":"#8a8a8a"},"encoding":{"text":{"field":"t"}}},
{"data":{"values":[{"b":22.5,"p":6186,"t":"—"},{"b":24.64,"p":6186,"t":"☐"},{"b":26.66,"p":6186,"t":"✕"}]},"mark":{"type":"text","font":"DejaVu Sans","fontSize":13,"color":"#888888"},"encoding":{"text":{"field":"t"}}},
{"data":{"values":[{"b":1.08,"p":6129.25,"t":"cs"}]},"mark":{"type":"text","align":"right","font":"Lato","fontWeight":"bold","fontSize":30,"color":"#ffffff"},"encoding":{"text":{"field":"t"}}}
]
},
{
"encoding":{
"x":{"field":"b","type":"quantitative","title":null,"scale":{"domain":[-0.414,270.96],"nice":false,"zero":false},"axis":{"orient":"bottom","offset":-14.5,"values":[0,19,38,57,76,95,114],"labelExpr":"['11-12\u00a0\u00a09:30','11-13\u00a0\u00a09:30','11-14\u00a0\u00a09:30','11-15\u00a0\u00a09:30','11-18\u00a0\u00a09:30','11-19\u00a0\u00a09:30','11-19\u00a0\u00a018:00'][datum.value/19]","grid":false,"domain":false,"tickColor":"#ffffff","tickSize":15,"labelPadding":-12,"labelAlign":"left","labelOffset":4,"labelBaseline":"top","labelColor":"#222222","labelFontSize":10.5,"labelOverlap":false,"labelBound":false,"labelFlush":false,"zindex":1}},
"y":{"field":"p","type":"quantitative","title":null,"scale":{"domain":[5839.04,6054.03],"nice":false,"zero":false},"axis":{"orient":"right","offset":-648,"values":[6050,6000,5950,5900,5850],"format":".2f","grid":false,"domain":false,"tickColor":"#ffffff","tickSize":3,"labelPadding":2,"labelColor":"#ffffff","labelFontSize":12,"labelOverlap":false,"labelBound":false,"zindex":1}}
},
"resolve":{"scale":{"color":"independent","strokeDash":"independent","strokeWidth":"independent"}},
"layer":[
{"data":{"values":[{"b":-0.414,"b2":185.6,"p":6054.03,"p2":5839.04,"k":"panel"},{"b":20,"b2":178.46,"p":5968.75,"p2":5947.5,"k":"band"},{"b":-0.414,"b2":178.46,"p":5876.75,"p2":5842.4,"k":"band"},{"b":34,"b2":147,"p":5945.75,"p2":5885,"k":"boxfill"},{"b":-0.414,"b2":18.64,"p":6026.75,"p2":6006.5,"k":"session"},{"b":18.64,"b2":37.56,"p":6027.75,"p2":6008,"k":"session"},{"b":37.56,"b2":56.55,"p":6011,"p2":5984.25,"k":"session"},{"b":56.55,"b2":75.5,"p":5912,"p2":5885.25,"k":"session"},{"b":75.5,"b2":94.5,"p":5924.5,"p2":5907.75,"k":"session"},{"b":94.5,"b2":138.5,"p":5947.25,"p2":5907.75,"k":"session"}]},
"mark":{"type":"rect"},
"encoding":{"x2":{"field":"b2"},"y2":{"field":"p2"},"color":{"field":"k","type":"nominal","legend":null,"scale":{"domain":["panel","band","boxfill","session"],"range":["#2b2b2b","#3a2840","#34322a","#2c3a27"]}}}},
{"data":{"values":[{"b":-0.414,"b2":178.46,"p":6050},{"b":-0.414,"b2":178.46,"p":6000},{"b":-0.414,"b2":178.46,"p":5950},{"b":-0.414,"b2":178.46,"p":5900},{"b":-0.414,"b2":178.46,"p":5850}]},"mark":{"type":"rule","color":"#424242","strokeWidth":1},"encoding":{"x2":{"field":"b2"}}},
{"data":{"values":[{"b":75.56,"p":6051,"p2":5842.4}]},"mark":{"type":"rule","color":"#424242","strokeWidth":1},"encoding":{"y2":{"field":"p2"}}},
{"data":{"name":"leftProfile"},"mark":{"type":"area","orient":"horizontal","interpolate":"step"},
"encoding":{"x2":{"datum":178.46},"color":{"field":"k","type":"nominal","legend":null,"scale":{"domain":["hi","lo"],"range":["#666666","#4d4d4d"]}}}},
{"data":{"values":[{"b":-0.414,"b2":178.46,"p":6045.25,"k":"swing"},{"b":-0.414,"b2":11.43,"p":6015.9,"k":"thick"},{"b":37.6,"b2":74.1,"p":6015.9,"k":"thick"},{"b":27.3,"b2":37.6,"p":6015.9,"k":"solid"},{"b":37.6,"b2":56.7,"p":6003.8,"k":"solid"},{"b":56.55,"b2":75.5,"p":5893.25,"k":"solid"},{"b":75.5,"b2":94.5,"p":5920.4,"k":"solid"},{"b":94.5,"b2":138.5,"p":5938.75,"k":"solid"},{"b":74.1,"b2":138.9,"p":6015.9,"k":"thin"},{"b":74,"b2":75.5,"p":5920.4,"k":"thin"},{"b":94.5,"b2":138.9,"p":5920.4,"k":"thin"},{"b":-0.414,"b2":37.6,"p":6003.8,"k":"salmon"},{"b":56.7,"b2":178.46,"p":6003.8,"k":"salmon"},{"b":160.4,"b2":178.46,"p":6023.75,"k":"poc"}]},
"mark":{"type":"rule"},
"encoding":{"x2":{"field":"b2"},
"color":{"field":"k","type":"nominal","legend":null,"scale":{"domain":["swing","thick","solid","thin","salmon","poc"],"range":["#e8e800","#ff8000","#d98a1a","#ff8a1f","#ff8f5f","#b8620e"]}},
"strokeWidth":{"field":"k","type":"ordinal","legend":null,"scale":{"domain":["swing","thick","solid","thin","salmon","poc"],"range":[1.3,2.6,1.4,1,1,2.5]}},
"strokeDash":{"field":"k","type":"nominal","legend":null,"scale":{"domain":["swing","thick","solid","thin","salmon","poc"],"range":[[4,4],[4,2],[1,0],[4,3],[4,3],[1,0]]}}}},
{"data":{"values":[{"b":34,"b2":147,"p":5945.75,"p2":5885}]},"mark":{"type":"rect","filled":false,"stroke":"#ffff00","strokeWidth":1.5},"encoding":{"x2":{"field":"b2"},"y2":{"field":"p2"}}},
{"data":{"values":[{"b":1,"b2":13.9,"p":6036.5,"p2":5987.5}]},"mark":{"type":"rect","filled":false,"stroke":"#ffffff","strokeWidth":1.2,"strokeDash":[4,3]},"encoding":{"x2":{"field":"b2"},"y2":{"field":"p2"}}},
{"data":{"name":"tpo"},"transform":[{"filter":"datum.t=='M'||datum.t=='A'"}],"mark":{"type":"rule","strokeWidth":6,"color":"#d8e0dc","opacity":0.75},"encoding":{"y2":{"field":"p2"}}},
{"data":{"name":"tpo"},"transform":[{"filter":"datum.t!='I'"}],"mark":{"type":"rule","strokeWidth":5.5,"strokeDash":[2,2]},
"encoding":{"y2":{"field":"p2"},"color":{"field":"c","type":"nominal","legend":null,"scale":{"domain":["w","r"],"range":["#fafaf2","#e80000"]}}}},
{"data":{"name":"tpo"},"mark":{"type":"rule","strokeWidth":1.2,"xOffset":-2.2},
"encoding":{"y2":{"field":"p2"},"color":{"field":"c","type":"nominal","legend":null,"scale":{"domain":["w","r"],"range":["#fafaf2","#e80000"]}}}},
{"data":{"name":"tpo"},"transform":[{"filter":"datum.t!='I'"}],"mark":{"type":"text","font":"DejaVu Sans Mono","fontSize":9},
"encoding":{"text":{"field":"t"},"y":{"field":"p2","type":"quantitative"},"color":{"field":"c","type":"nominal","legend":null,"scale":{"domain":["w","r"],"range":["#fafaf2","#e80000"]}}}},
{"data":{"values":[{"b":1,"p":6030.75,"t":"A"},{"b":39,"p":6014.75,"t":"A"},{"b":58,"p":5937,"t":"A"},{"b":77,"p":5900,"t":"A"},{"b":96,"p":5884,"t":"A"}]},"mark":{"type":"text","font":"DejaVu Sans Mono","fontSize":10,"color":"#e80000"},"encoding":{"text":{"field":"t"}}},
{"data":{"values":[{"b":5,"p":6011.75,"t":"E"},{"b":40,"p":5995,"t":"B"},{"b":59,"p":5909.75,"t":"B"},{"b":78,"p":5912,"t":"B"},{"b":98,"p":5912,"t":"C"}]},"mark":{"type":"text","font":"DejaVu Sans Mono","fontSize":9,"color":"#40e0d0"},"encoding":{"text":{"field":"t"}}},
{"data":{"name":"cloud"},"mark":{"type":"text","font":"DejaVu Sans Mono","fontSize":10},
"encoding":{"text":{"field":"t"},"color":{"field":"c","type":"nominal","legend":null,"scale":{"domain":["w","r","g"],"range":["#f2f2f2","#e80000","#9a9a9a"]}}}},
{"data":{"values":[{"b":0,"p":6031.75},{"b":1,"p":6031.5},{"b":2,"p":6031.25},{"b":3,"p":6030.75},{"b":4,"p":6030},{"b":5,"p":6029},{"b":6,"p":6028.25},{"b":7,"p":6027},{"b":8,"p":6025.5},{"b":9,"p":6025},{"b":10,"p":6024.5},{"b":11,"p":6024.25},{"b":13,"p":6023.75},{"b":14,"p":6023.75},{"b":15,"p":6023.75},{"b":16,"p":6023.75},{"b":17,"p":6023.75},{"b":35,"p":6021},{"b":36,"p":6021},{"b":37,"p":6020.75},{"b":38,"p":6020.75},{"b":39,"p":6020.25},{"b":40,"p":6019.5},{"b":41,"p":6019.25},{"b":42,"p":6019.25},{"b":43,"p":6019.25},{"b":44,"p":6018.75},{"b":45,"p":6018},{"b":46,"p":6017.75},{"b":47,"p":6017.25},{"b":48,"p":6016.75},{"b":49,"p":6016.5},{"b":50,"p":6015.75},{"b":51,"p":6014.25},{"b":52,"p":6014.25},{"b":53,"p":6014.25},{"b":54,"p":6014.25},{"b":55,"p":6014.25},{"b":56,"p":6010},{"b":57,"p":6010},{"b":58,"p":6007.5},{"b":59,"p":6004.75},{"b":60,"p":6002.25},{"b":61,"p":6000.5},{"b":62,"p":5998.75},{"b":63,"p":5997.75},{"b":64,"p":5996.5},{"b":65,"p":5995.5},{"b":66,"p":5994.25},{"b":67,"p":5993},{"b":68,"p":5991.75},{"b":69,"p":5990.25},{"b":70,"p":5987.5},{"b":71,"p":5987.5},{"b":72,"p":5987.5},{"b":73,"p":5987.5},{"b":74,"p":5987.5},
{"b":0,"p":5893.5},{"b":1,"p":5895},{"b":2,"p":5896.5},{"b":3,"p":5897.5},{"b":4,"p":5898.5},{"b":5,"p":5899.25},{"b":6,"p":5900},{"b":7,"p":5901},{"b":8,"p":5901.75},{"b":9,"p":5902.5},{"b":10,"p":5903.5},{"b":11,"p":5904},{"b":12,"p":5904.5},{"b":13,"p":5906.25},{"b":14,"p":5906.25},{"b":15,"p":5906.25},{"b":16,"p":5906.25},{"b":17,"p":5906.25},{"b":18,"p":5909},{"b":19,"p":5909},{"b":20,"p":5910.25},{"b":21,"p":5911.5},{"b":22,"p":5912.25},{"b":23,"p":5913},{"b":24,"p":5913.5},{"b":25,"p":5914.25},{"b":26,"p":5914.75},{"b":27,"p":5915.25},{"b":28,"p":5915.5},{"b":29,"p":5916.25},{"b":30,"p":5916.75},{"b":32,"p":5919},{"b":33,"p":5919},{"b":34,"p":5919},{"b":35,"p":5919},{"b":36,"p":5919},{"b":37,"p":5921},{"b":38,"p":5921},{"b":39,"p":5922.25},{"b":40,"p":5923},{"b":41,"p":5923.5},{"b":42,"p":5924},{"b":43,"p":5924.5},{"b":44,"p":5925},{"b":45,"p":5925.5},{"b":46,"p":5926},{"b":47,"p":5926.5},{"b":48,"p":5927.25},{"b":49,"p":5927.5},{"b":50,"p":5927.75},{"b":51,"p":5928.25},{"b":52,"p":5928.25},{"b":53,"p":5928.25},{"b":54,"p":5928.25},{"b":55,"p":5928.25},{"b":56,"p":5928.5},{"b":57,"p":5928.5},{"b":59,"p":5928},{"b":60,"p":5928},{"b":61,"p":5927.75},{"b":62,"p":5927.75},{"b":63,"p":5927.25},{"b":64,"p":5927.25},{"b":65,"p":5927},{"b":66,"p":5926.75},{"b":67,"p":5926.5},{"b":68,"p":5926.25},{"b":69,"p":5926},{"b":70,"p":5925.75},{"b":71,"p":5925.75},{"b":72,"p":5925.75},{"b":73,"p":5925.75},{"b":74,"p":5925.75},{"b":75,"p":5925.5},{"b":76,"p":5925.25},{"b":77,"p":5925.25},{"b":78,"p":5925},{"b":79,"p":5925},{"b":80,"p":5924.75},{"b":81,"p":5924.75},{"b":82,"p":5924.75},{"b":83,"p":5924.75},{"b":84,"p":5924.75},{"b":85,"p":5924.75},{"b":86,"p":5924.75},{"b":87,"p":5924.75},{"b":88,"p":5924.75},{"b":89,"p":5924.75},{"b":90,"p":5924.5},{"b":91,"p":5924.5},{"b":92,"p":5924.5},{"b":93,"p":5924.25},{"b":94,"p":5924},{"b":95,"p":5923.75},{"b":96,"p":5923.5},{"b":97,"p":5923.5},{"b":98,"p":5923.25},{"b":99,"p":5923.25},{"b":100,"p":5923.25},{"b":101,"p":5923.25},{"b":102,"p":5923.25},{"b":103,"p":5923.25},{"b":104,"p":5923.5},{"b":105,"p":5923.5},{"b":106,"p":5923.5},{"b":107,"p":5923.5},{"b":108,"p":5923.5},{"b":109,"p":5923.5},{"b":110,"p":5923.5},{"b":111,"p":5923.5},{"b":112,"p":5923.5},{"b":113,"p":5923.5},{"b":114,"p":5923.5},{"b":115,"p":5923.5},{"b":116,"p":5923.5},{"b":117,"p":5923.5},{"b":118,"p":5923.5},{"b":119,"p":5923.5},{"b":120,"p":5923.5},{"b":121,"p":5923.5},{"b":122,"p":5923.5},{"b":123,"p":5923.5},{"b":124,"p":5923.5},{"b":125,"p":5923.5},{"b":126,"p":5923.5},{"b":127,"p":5923.5},{"b":128,"p":5923.5},{"b":129,"p":5923.5},{"b":130,"p":5923.5},{"b":131,"p":5923.5},{"b":132,"p":5923.5},{"b":133,"p":5923.5},{"b":134,"p":5923.5},{"b":135,"p":5923.5},{"b":136,"p":5923.5},{"b":137,"p":5923.5},{"b":138,"p":5923.5},
{"b":90,"p":5912.25},{"b":91,"p":5912.25},{"b":92,"p":5912.25},{"b":93,"p":5912.25},{"b":94,"p":5908.25},{"b":95,"p":5908.25},{"b":96,"p":5906.25},{"b":97,"p":5905.5},{"b":98,"p":5905.5},{"b":99,"p":5906},{"b":100,"p":5906.5},{"b":101,"p":5907},{"b":102,"p":5907.5},{"b":103,"p":5908},{"b":104,"p":5908.75},{"b":105,"p":5909.75},{"b":106,"p":5910.5},{"b":107,"p":5910.75},{"b":108,"p":5912.25},{"b":109,"p":5912.25},{"b":110,"p":5912.25},{"b":111,"p":5912.25},{"b":112,"p":5912.25},{"b":113,"p":5912.5},{"b":114,"p":5912.5},{"b":115,"p":5912.5},{"b":116,"p":5912.5},{"b":117,"p":5912.5},{"b":118,"p":5912.5},{"b":119,"p":5912.5},{"b":120,"p":5912.5},{"b":121,"p":5912.5},{"b":122,"p":5912.5},{"b":123,"p":5912.5},{"b":124,"p":5912.5},{"b":125,"p":5912.5},{"b":126,"p":5912.5},{"b":127,"p":5912.5},{"b":128,"p":5912.5},{"b":129,"p":5912.5},{"b":130,"p":5912.5},{"b":131,"p":5912.5},{"b":132,"p":5912.5},{"b":133,"p":5912.5},{"b":134,"p":5912.5},{"b":135,"p":5912.5},{"b":136,"p":5912.5},{"b":137,"p":5912.5},{"b":138,"p":5912.5}]},"mark":{"type":"square","size":6,"color":"#66ffff","opacity":1}},
{"data":{"values":[{"b":0,"p":6027},{"b":1,"p":6027},{"b":2,"p":6026.75},{"b":3,"p":6025.75},{"b":4,"p":6024.75},{"b":5,"p":6022.5},{"b":6,"p":6021.25},{"b":7,"p":6019},{"b":8,"p":6016.5},{"b":9,"p":6016.25},{"b":10,"p":6016.5},{"b":11,"p":6017},{"b":12,"p":6017},{"b":19,"p":6011.25},{"b":24,"p":6011.25},{"b":28,"p":6015.5},{"b":29,"p":6016.25},{"b":30,"p":6016.5},{"b":31,"p":6016.5},{"b":32,"p":6016.5},{"b":37,"p":6016.5},{"b":38,"p":6013},{"b":40,"p":6009.5},{"b":41,"p":6009.25},{"b":42,"p":6009},{"b":43,"p":6008.5},{"b":44,"p":6007.25},{"b":45,"p":6004.75},{"b":46,"p":6004.25},{"b":47,"p":6003.25},{"b":48,"p":6002.25},{"b":50,"p":6000},{"b":51,"p":5996.75},{"b":56,"p":5946.5},{"b":57,"p":5941.75},{"b":59,"p":5934.5},{"b":60,"p":5929.25},{"b":61,"p":5926.75},{"b":62,"p":5924.5},{"b":63,"p":5922.5},{"b":64,"p":5920.25},{"b":65,"p":5919},{"b":66,"p":5916.75},{"b":67,"p":5915.5},{"b":68,"p":5913.75},{"b":69,"p":5912.5},{"b":70,"p":5910.5},{"b":75,"p":5903},{"b":76,"p":5900.5},{"b":79,"p":5904.25},{"b":80,"p":5906},{"b":81,"p":5908.75},{"b":82,"p":5909.5},{"b":83,"p":5910.25},{"b":84,"p":5910.75},{"b":85,"p":5911},{"b":86,"p":5911.25},{"b":87,"p":5911.5},{"b":88,"p":5911.75},{"b":89,"p":5912.25},{"b":94,"p":5894},{"b":95,"p":5892},{"b":98,"p":5894.25},{"b":99,"p":5896.25},{"b":100,"p":5898.75},{"b":101,"p":5900.25},{"b":102,"p":5901.5},{"b":103,"p":5903},{"b":104,"p":5905},{"b":105,"p":5906.75},{"b":106,"p":5908.5},{"b":107,"p":5909},{"b":108,"p":5912},{"b":113,"p":5912.75},{"b":114,"p":5942}]},"mark":{"type":"square","size":6,"color":"#0a7bf0","opacity":1}},
{"data":{"values":[{"b":33.4,"p":6015.9},{"b":52.4,"p":5976.75},{"b":71.3,"p":5897},{"b":90.4,"p":5920.4},{"b":109.4,"p":5939},{"b":120.5,"p":5940.75}]},"mark":{"type":"point","shape":"triangle-left","filled":true,"size":80,"color":"#e80000","opacity":1}},
{"data":{"values":[{"b":32,"b2":146.9,"p":6054.03,"p2":6032.5},{"b":66,"b2":102.4,"p":6027.25,"p2":6020.25}]},"mark":{"type":"rect","color":"#2b2b2b"},"encoding":{"x2":{"field":"b2"},"y2":{"field":"p2"}}},
{"data":{"values":[{"b":11.43,"b2":34.4,"p":6022.75,"p2":6018},{"b":11.43,"b2":27.3,"p":6016,"p2":6011.75},{"b":11.43,"b2":26.6,"p":6010,"p2":6005.25},{"b":11.43,"b2":27.9,"p":6003.25,"p2":5998.75}]},"mark":{"type":"rect","color":"#2a292c"},"encoding":{"x2":{"field":"b2"},"y2":{"field":"p2"}}},
{"data":{"values":[{"b":32.1,"p":6040.75,"t":"selective,"},{"b":72,"p":6040.75,"t":"patient,"},{"b":105.8,"p":6040.75,"t":"confident"}]},"mark":{"type":"text","align":"left","font":"Lato","fontWeight":"bold","fontSize":60,"color":"#ffffff"},"encoding":{"text":{"field":"t"}}},
{"data":{"values":[{"b":68.5,"p":6023,"t":"like a tight poker player"}]},"mark":{"type":"text","align":"left","font":"Lato","fontWeight":"bold","fontSize":22.5,"color":"#ffffff"},"encoding":{"text":{"field":"t"}}},
{"data":{"values":[{"b":11.6,"p":6020,"t":"SCALP continuation"},{"b":11.6,"p":6013.75,"t":"SCALP contra"},{"b":11.6,"p":6007.5,"t":"MOVE initial"},{"b":11.6,"p":6001,"t":"MOVE second"},{"b":142.2,"p":6020,"t":"avg range:"},{"b":157.6,"p":6020,"t":"49.38"},{"b":142.2,"p":6013.75,"t":"cum delta:"},{"b":157.6,"p":6013.75,"t":"2102.00"}]},"mark":{"type":"text","align":"left","font":"Lato","fontWeight":"bold","fontSize":17,"color":"#ffffff"},"encoding":{"text":{"field":"t"}}},
{"data":{"values":[{"b":1,"p":6042.75,"t":"49.75"},{"b":20,"p":6041.5,"t":"43.50"},{"b":39,"p":6026.5,"t":"51.75"},{"b":58,"p":5948,"t":"65.00"},{"b":77,"p":5939.5,"t":"41.75"},{"b":96,"p":5953.75,"t":"71.25"},{"b":115,"p":5964.25,"t":"20.75"}]},"mark":{"type":"text","align":"left","fontSize":12,"color":"#e0e0e0"},"encoding":{"text":{"field":"t"}}},
{"data":{"values":[{"b":178.3,"p":6043,"t":"swing h\u00a0\u00a06045.25"}]},"mark":{"type":"text","align":"right","fontSize":12,"color":"#e6e600"},"encoding":{"text":{"field":"t"}}},
{"data":{"values":[{"b":178.3,"p":5970.5,"t":"5968.75"},{"b":178.3,"p":5945.75,"t":"5947.50"},{"b":178.3,"p":5878.5,"t":"5876.75"}]},"mark":{"type":"text","align":"right","fontSize":12,"color":"#b0b0b0"},"encoding":{"text":{"field":"t"}}},
{"data":{"values":[{"b":172.7,"b2":178.3,"p":6003.5,"p2":6000.5}]},"mark":{"type":"rect","color":"#3a3a3a"},"encoding":{"x2":{"field":"b2"},"y2":{"field":"p2"}}},
{"data":{"values":[{"b":178.3,"p":6002.25,"t":"6004.00"}]},"mark":{"type":"text","align":"right","fontSize":12,"color":"#ff6b3a"},"encoding":{"text":{"field":"t"}}},
{"data":{"values":[{"b":138.9,"p":6015.9,"t":"m"},{"b":138.9,"p":5920.4,"t":"w"}]},"mark":{"type":"text","align":"left","fontSize":14,"color":"#d9750f"},"encoding":{"text":{"field":"t"}}},
{"data":{"values":[{"b":138.9,"p":5923.57,"t":"m"},{"b":138.9,"p":5912.59,"t":"w"}]},"mark":{"type":"text","align":"left","fontSize":14,"color":"#66ffff"},"encoding":{"text":{"field":"t"}}},
{"data":{"values":[{"b":179,"b2":184.9,"p":5943.5,"p2":5942.25}]},"mark":{"type":"rect","color":"#0a7bf0"},"encoding":{"x2":{"field":"b2"},"y2":{"field":"p2"}}},
{"data":{"values":[{"b":179,"b2":184.9,"p":5942.25,"p2":5938.75}]},"mark":{"type":"rect","color":"#ffffff"},"encoding":{"x2":{"field":"b2"},"y2":{"field":"p2"}}},
{"data":{"values":[{"b":179,"b2":184.9,"p":5925.25,"p2":5921.75},{"b":179,"b2":184.9,"p":5914.25,"p2":5910.75}]},"mark":{"type":"rect","color":"#66ffff"},"encoding":{"x2":{"field":"b2"},"y2":{"field":"p2"}}},
{"data":{"values":[{"b":182,"p":5940.75,"t":"5940.75"},{"b":182,"p":5923.57,"t":"5923.57"},{"b":182,"p":5912.59,"t":"5912.59"}]},"mark":{"type":"text","fontSize":11.5,"color":"#111111"},"encoding":{"text":{"field":"t"}}},
{"data":{"values":[{"b":0.45,"b2":8.6,"p":5841.6,"p2":5839.04},{"b":19.45,"b2":27.6,"p":5841.6,"p2":5839.04},{"b":38.45,"b2":46.6,"p":5841.6,"p2":5839.04},{"b":57.45,"b2":65.6,"p":5841.6,"p2":5839.04},{"b":76.45,"b2":84.6,"p":5841.6,"p2":5839.04},{"b":95.45,"b2":103.5,"p":5841.6,"p2":5839.04},{"b":114.45,"b2":123.2,"p":5841.6,"p2":5839.04}]},"mark":{"type":"rect","color":"#ffffff"},"encoding":{"x2":{"field":"b2"},"y2":{"field":"p2"}}},
{"data":{"values":[{"b":178.46,"p":6054.03,"p2":5842.4}]},"mark":{"type":"rule","color":"#ffffff","strokeWidth":1.2},"encoding":{"y2":{"field":"p2"}}},
{"data":{"values":[{"b":-0.414,"b2":178.46,"p":5842.4}]},"mark":{"type":"rule","color":"#ffffff","strokeWidth":1.2},"encoding":{"x2":{"field":"b2"}}},
{"data":{"values":[{"b":182.4,"b2":185.35,"p":5841.6,"p2":5839.04}]},"mark":{"type":"rect","color":"#00aa00"},"encoding":{"x2":{"field":"b2"},"y2":{"field":"p2"}}},
{"data":{"values":[{"b":183.9,"p":5840.3,"t":"6 F"}]},"mark":{"type":"text","fontSize":11,"color":"#ffffff"},"encoding":{"text":{"field":"t"}}}
]
},
{
"encoding":{
"x":{"field":"l","type":"quantitative","title":null,"axis":null,"scale":{"domain":[0,1901],"nice":false,"zero":false}},
"y":{"field":"t","type":"quantitative","title":null,"axis":null,"scale":{"domain":[0,924],"reverse":true,"nice":false,"zero":false}}
},
"resolve":{"scale":{"color":"independent"}},
"layer":[
{"data":{"values":[
{"l":1303,"r":1390,"t":910,"u":924,"k":"white"},
{"l":1486,"r":1901,"t":823,"u":924,"k":"white"},
{"l":1486,"r":1901,"t":888,"u":924,"k":"pale"},
{"l":1486,"r":1815.5,"t":892.7,"u":914,"k":"lime"},
{"l":1818,"r":1853,"t":891,"u":915,"k":"button"},
{"l":1881,"r":1896,"t":891,"u":915,"k":"button"},
{"l":1487,"r":1605.5,"t":917.7,"u":924,"k":"tab"},
{"l":1362,"r":1790,"t":782,"u":894,"k":"white"},
{"l":1362,"r":1790,"t":848,"u":894,"k":"pale"},
{"l":1362,"r":1691,"t":851.7,"u":873.3,"k":"lime"},
{"l":1694,"r":1728.5,"t":850,"u":875,"k":"button"},
{"l":1758,"r":1773.5,"t":850,"u":875,"k":"button"},
{"l":1774.5,"r":1789.5,"t":850,"u":875,"k":"button"},
{"l":1362,"r":1450.6,"t":876.7,"u":893.7,"k":"tab"}]},
"mark":{"type":"rect"},
"encoding":{"x2":{"field":"r"},"y2":{"field":"u"},"color":{"field":"k","type":"nominal","legend":null,"scale":{"domain":["white","pale","lime","button","tab"],"range":["#ffffff","#f0f0f0","#4dff4d","#eeeeee","#0b78d0"]}}}},
{"data":{"values":[{"l":1694,"r":1728.5,"t":850,"u":875},{"l":1758,"r":1773.5,"t":850,"u":875},{"l":1774.5,"r":1789.5,"t":850,"u":875},{"l":1818,"r":1853,"t":891,"u":915},{"l":1881,"r":1896,"t":891,"u":915}]},"mark":{"type":"rect","filled":false,"stroke":"#b4b4b4","strokeWidth":1},"encoding":{"x2":{"field":"r"},"y2":{"field":"u"}}},
{"data":{"values":[{"l":1378,"t":796}]},"mark":{"type":"point","shape":"circle","filled":true,"size":140,"color":"#3d8fd0","opacity":1}},
{"data":{"values":[{"l":1380,"t":794}]},"mark":{"type":"point","shape":"circle","filled":true,"size":40,"color":"#7ac043","opacity":1}},
{"data":{"values":[{"l":1391,"t":797,"x":"Sierra Chart 2695 Trading 2024 07 Interactive Bro..."}]},"mark":{"type":"text","align":"left","fontSize":11.5,"color":"#9a9a9a"},"encoding":{"text":{"field":"x"}}},
{"data":{"values":[{"l":1369,"t":821.7,"x":"File"},{"l":1401,"t":821.7,"x":"Edit"},{"l":1435,"t":821.7,"x":"Chart"},{"l":1478,"t":821.7,"x":"Analysis"},{"l":1535,"t":821.7,"x":"Tools"},{"l":1576,"t":821.7,"x":"Spreadsheet"},{"l":1654.5,"t":821.7,"x":"Trade"},{"l":1696,"t":821.7,"x":"Global Settings"},{"l":1369,"t":841,"x":"Window"},{"l":1427,"t":841,"x":"CB"},{"l":1456,"t":841,"x":"CW"},{"l":1489,"t":841,"x":"Help"},{"l":1789,"t":862.7,"x":"ade"},{"l":1820,"t":862.7,"x":"Global Settings"}]},"mark":{"type":"text","align":"left","fontSize":12,"color":"#777777"},"encoding":{"text":{"field":"x"}}},
{"data":{"values":[{"l":1366,"t":862.7,"x":"DF:186072\u00a0\u00a0ST:13, 13\u00a0\u00a0BR:5.80M"},{"l":1490,"t":903.7,"x":"DF:59763\u00a0\u00a0ST:5, 5\u00a0\u00a0BR:1.88M"}]},"mark":{"type":"text","align":"left","fontSize":12,"color":"#1c3a1c"},"encoding":{"text":{"field":"x"}}},
{"data":{"values":[{"l":1711,"t":863,"x":"CDT1"},{"l":1835.5,"t":904,"x":"CDT1"},{"l":1766,"t":863,"x":"<"},{"l":1782,"t":863,"x":">"},{"l":1888.5,"t":904,"x":"<"}]},"mark":{"type":"text","fontSize":12,"color":"#222222"},"encoding":{"text":{"field":"x"}}},
{"data":{"values":[{"l":1366,"t":885.5,"x":"Trading 2024 07"}]},"mark":{"type":"text","align":"left","fontSize":10.5,"color":"#ffffff"},"encoding":{"text":{"field":"x"}}},
{"data":{"values":[{"l":1676,"t":796,"x":"—"},{"l":1721,"t":796,"x":"☐"},{"l":1767,"t":796,"x":"✕"},{"l":1798,"t":836.7,"x":"—"},{"l":1844,"t":836.7,"x":"☐"},{"l":1890,"t":836.7,"x":"✕"},{"l":1321,"t":921.7,"x":"☐"},{"l":1367,"t":921.7,"x":"✕"}]},"mark":{"type":"text","font":"DejaVu Sans","fontSize":13,"color":"#888888"},"encoding":{"text":{"field":"x"}}}
]
}
],
"resolve":{"scale":{"x":"independent","y":"independent"}}
}
